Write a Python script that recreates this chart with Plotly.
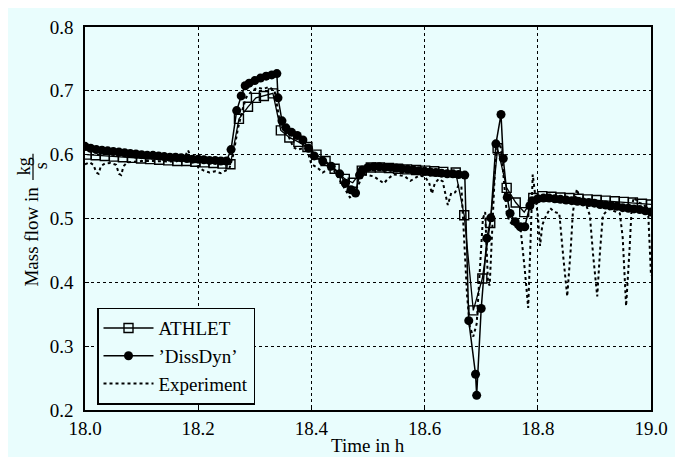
import plotly.graph_objects as go

# ---------------- data ----------------
diss_t = [18.00, 18.01, 18.02, 18.03, 18.04, 18.05, 18.06, 18.07, 18.08, 18.09,
          18.10, 18.11, 18.12, 18.13, 18.14, 18.15, 18.16, 18.17, 18.18, 18.19,
          18.20, 18.21, 18.22, 18.23, 18.24, 18.25, 18.258, 18.268, 18.276, 18.283,
          18.29, 18.30, 18.31, 18.32, 18.33, 18.339, 18.341, 18.348, 18.355, 18.365,
          18.375, 18.385, 18.395, 18.405, 18.42, 18.435, 18.45, 18.46, 18.47, 18.478,
          18.485, 18.49, 18.50, 18.51, 18.52, 18.53, 18.54, 18.55, 18.56, 18.57,
          18.58, 18.59, 18.60, 18.61, 18.62, 18.63, 18.64, 18.65, 18.66, 18.671,
          18.678, 18.690, 18.692, 18.700, 18.710, 18.717, 18.726, 18.735, 18.739, 18.746,
          18.751, 18.760, 18.769, 18.777, 18.786, 18.79, 18.80, 18.81, 18.82, 18.83,
          18.84, 18.85, 18.86, 18.87, 18.88, 18.89, 18.90, 18.91, 18.92, 18.93,
          18.94, 18.95, 18.96, 18.97, 18.98, 18.99, 19.00]
diss_v = [0.613, 0.610, 0.608, 0.607, 0.606, 0.605, 0.604, 0.603, 0.602, 0.601,
          0.600, 0.599, 0.599, 0.598, 0.597, 0.596, 0.596, 0.595, 0.594, 0.593,
          0.593, 0.592, 0.591, 0.591, 0.590, 0.590, 0.608, 0.669, 0.692, 0.708,
          0.712, 0.716, 0.720, 0.723, 0.725, 0.727, 0.689, 0.653, 0.642, 0.635,
          0.630, 0.623, 0.610, 0.598, 0.590, 0.582, 0.570, 0.555, 0.545, 0.540,
          0.568, 0.576, 0.580, 0.581, 0.581, 0.580, 0.580, 0.579, 0.578, 0.577,
          0.576, 0.575, 0.574, 0.573, 0.572, 0.571, 0.570, 0.570, 0.569, 0.568,
          0.340, 0.256, 0.223, 0.359, 0.469, 0.501, 0.617, 0.663, 0.594, 0.533,
          0.508, 0.495, 0.487, 0.487, 0.520, 0.528, 0.531, 0.532, 0.532, 0.531,
          0.530, 0.529, 0.528, 0.527, 0.526, 0.525, 0.524, 0.522, 0.521, 0.520,
          0.519, 0.517, 0.516, 0.515, 0.514, 0.512, 0.510]

athlet_t = [18.003, 18.019, 18.035, 18.051, 18.067, 18.083, 18.099, 18.115, 18.131, 18.147,
            18.163, 18.179, 18.195, 18.211, 18.227, 18.243, 18.257, 18.272, 18.288, 18.302,
            18.316, 18.332, 18.346, 18.361, 18.377, 18.393, 18.409, 18.425, 18.441, 18.459,
            18.473, 18.489, 18.505, 18.521, 18.537, 18.553, 18.569, 18.585, 18.601, 18.617,
            18.633, 18.655, 18.670, 18.686, 18.702, 18.716, 18.729, 18.745, 18.761, 18.776,
            18.792, 18.808, 18.824, 18.840, 18.856, 18.872, 18.888, 18.904, 18.920, 18.936,
            18.952, 18.968, 18.984, 19.000]
athlet_v = [0.600, 0.599, 0.598, 0.597, 0.596, 0.595, 0.594, 0.593, 0.592, 0.591,
            0.590, 0.590, 0.589, 0.588, 0.587, 0.586, 0.585, 0.656, 0.675, 0.689,
            0.692, 0.696, 0.638, 0.627, 0.620, 0.612, 0.600, 0.590, 0.578, 0.562,
            0.556, 0.575, 0.580, 0.580, 0.579, 0.578, 0.577, 0.576, 0.575, 0.574,
            0.573, 0.572, 0.505, 0.356, 0.406, 0.493, 0.610, 0.548, 0.525, 0.510,
            0.532, 0.535, 0.534, 0.533, 0.532, 0.531, 0.530, 0.529, 0.528, 0.527,
            0.526, 0.525, 0.523, 0.522]

exp_t = [18.000, 18.008, 18.015, 18.020, 18.024, 18.028, 18.035, 18.045, 18.055, 18.060,
         18.064, 18.068, 18.075, 18.090, 18.100, 18.120, 18.140, 18.160, 18.175, 18.182,
         18.188, 18.195, 18.200, 18.210, 18.220, 18.230, 18.240, 18.250, 18.255, 18.262,
         18.270, 18.278, 18.285, 18.295, 18.305, 18.315, 18.325, 18.335, 18.340, 18.345,
         18.352, 18.360, 18.368, 18.375, 18.385, 18.390, 18.395, 18.400, 18.410, 18.420,
         18.430, 18.440, 18.450, 18.460, 18.468, 18.475, 18.485, 18.492, 18.500, 18.510,
         18.520, 18.528, 18.535, 18.545, 18.555, 18.565, 18.575, 18.582, 18.590, 18.600,
         18.608, 18.613, 18.618, 18.625, 18.632, 18.641, 18.647, 18.654, 18.660, 18.665,
         18.670, 18.675, 18.680, 18.686, 18.692, 18.698, 18.703, 18.707, 18.712, 18.715,
         18.720, 18.725, 18.730, 18.735, 18.740, 18.745, 18.750, 18.760, 18.770, 18.777,
         18.783, 18.787, 18.791, 18.795, 18.800, 18.804, 18.808, 18.815, 18.822, 18.830,
         18.838, 18.845, 18.852, 18.858, 18.862, 18.869, 18.875, 18.885, 18.892, 18.898,
         18.905, 18.910, 18.915, 18.925, 18.935, 18.945, 18.950, 18.956, 18.962, 18.966,
         18.970, 18.978, 18.988, 18.995, 19.000]
exp_v = [0.585, 0.588, 0.584, 0.572, 0.570, 0.582, 0.586, 0.587, 0.584, 0.570,
         0.568, 0.582, 0.588, 0.589, 0.590, 0.590, 0.589, 0.589, 0.594, 0.607,
         0.595, 0.588, 0.580, 0.575, 0.572, 0.574, 0.571, 0.575, 0.578, 0.600,
         0.640, 0.670, 0.690, 0.700, 0.705, 0.703, 0.706, 0.700, 0.670, 0.647,
         0.638, 0.628, 0.612, 0.608, 0.610, 0.615, 0.600, 0.585, 0.580, 0.572,
         0.577, 0.575, 0.560, 0.545, 0.533, 0.537, 0.555, 0.570, 0.568, 0.566,
         0.560, 0.555, 0.562, 0.569, 0.568, 0.566, 0.559, 0.563, 0.567, 0.566,
         0.556, 0.539, 0.555, 0.562, 0.558, 0.521, 0.540, 0.541, 0.552, 0.550,
         0.470, 0.380, 0.330, 0.315, 0.335, 0.420, 0.500, 0.510, 0.400, 0.395,
         0.500, 0.590, 0.620, 0.610, 0.560, 0.510, 0.495, 0.488, 0.480, 0.420,
         0.360, 0.460, 0.569, 0.540, 0.505, 0.457, 0.490, 0.505, 0.516, 0.510,
         0.508, 0.440, 0.378, 0.450, 0.510, 0.546, 0.530, 0.522, 0.505, 0.440,
         0.378, 0.450, 0.505, 0.515, 0.512, 0.508, 0.470, 0.363, 0.450, 0.520,
         0.533, 0.525, 0.522, 0.510, 0.410]

x_ticks = [18.0, 18.2, 18.4, 18.6, 18.8, 19.0]
y_ticks = [0.2, 0.3, 0.4, 0.5, 0.6, 0.7, 0.8]

# ---------------- figure ----------------
BG = "#e9fdfd"
FONT = "Liberation Serif"
OFF = 8                      # default page body margin
W, H = 683 - OFF, 457 - OFF
ML, MR, MT, MB = 85 - OFF, 32, 17 - OFF, 47
PW, PH = W - ML - MR, H - MT - MB


def px(x):
    # screen pixel x -> paper fraction
    return (x - OFF - ML) / PW


def py(y):
    # screen pixel y -> paper fraction
    return (OFF + H - MB - y) / PH


fig = go.Figure()
fig.add_trace(go.Scatter(
    x=exp_t, y=exp_v, mode="lines", name="Experiment", legendrank=3,
    line=dict(color="black", width=2, dash="dot")))
fig.add_trace(go.Scatter(
    x=athlet_t, y=athlet_v, mode="lines+markers", name="ATHLET", legendrank=1,
    line=dict(color="black", width=1.3),
    marker=dict(symbol="square-open", size=9, color="black", line=dict(width=1.4))))
fig.add_trace(go.Scatter(
    x=diss_t, y=diss_v, mode="lines+markers", name="’DissDyn’", legendrank=2,
    line=dict(color="black", width=1.5),
    marker=dict(symbol="circle", size=9, color="black")))

axis_common = dict(
    showline=True, linecolor="black", linewidth=1.5, mirror=True,
    showgrid=True, gridcolor="black", gridwidth=1, griddash="dot",
    zeroline=False, ticks="inside", ticklen=4, tickcolor="black",
    tickfont=dict(family=FONT, size=19, color="black"),
)
fig.update_xaxes(range=[18.0, 19.0], tickvals=x_ticks, tickformat=".1f",
                 ticklabelstandoff=0, **axis_common)
fig.update_yaxes(range=[0.2, 0.8], tickvals=y_ticks, tickformat=".1f",
                 ticklabelstandoff=6, **axis_common)

common_ann = dict(xref="paper", yref="paper", showarrow=False,
                  xanchor="center", yanchor="middle")
ann = [
    dict(text="Time in h", x=px(368), y=py(446),
         font=dict(family=FONT, size=19, color="black"), **common_ann),
    dict(text="Mass flow in", x=px(32), y=py(232), textangle=-90,
         font=dict(family=FONT, size=19, color="black"), **common_ann),
    dict(text="kg", x=px(24), y=py(160), textangle=-90,
         font=dict(family=FONT, size=18, color="black"), **common_ann),
    dict(text="s", x=px(41), y=py(160), textangle=-90,
         font=dict(family=FONT, size=18, color="black"), **common_ann),
]
shapes = [dict(type="line", xref="paper", yref="paper",
               x0=px(33), x1=px(33), y0=py(147), y1=py(174),
               line=dict(color="black", width=1.2))]

fig.update_layout(
    width=W, height=H, autosize=False,
    margin=dict(l=ML, r=MR, t=MT, b=MB),
    paper_bgcolor=BG, plot_bgcolor=BG,
    font=dict(family=FONT, size=19, color="black"),
    annotations=ann, shapes=shapes,
    legend=dict(x=px(97), y=py(305), xanchor="left", yanchor="top",
                bgcolor=BG, bordercolor="black", borderwidth=1.5,
                font=dict(family=FONT, size=19, color="black"),
                itemwidth=50, tracegroupgap=0),
    showlegend=True,
)

fig.write_html("out.html")
